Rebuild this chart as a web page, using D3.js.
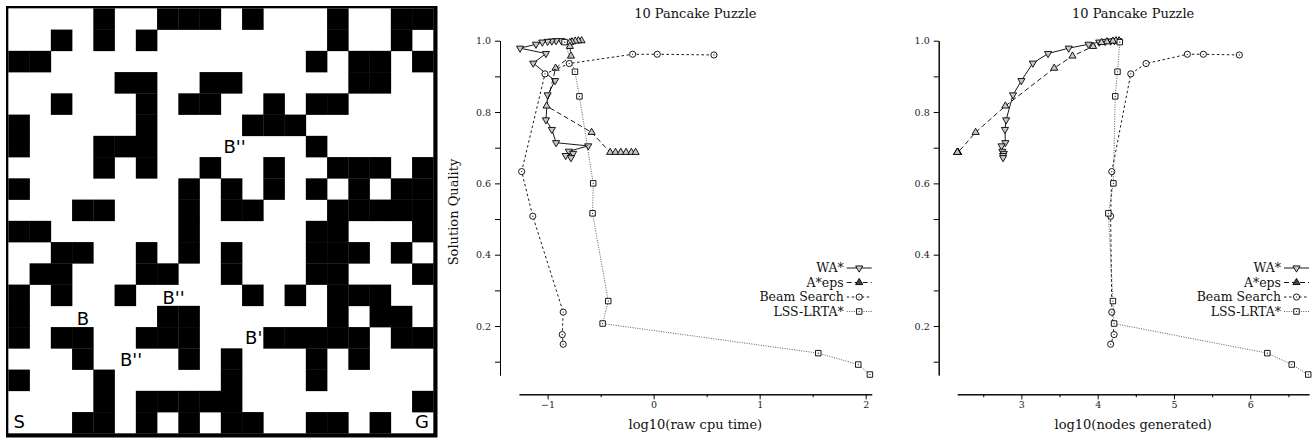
<!DOCTYPE html>
<html>
<head>
<meta charset="utf-8">
<script src="https://cdn.jsdelivr.net/npm/d3@7"></script>
<style>
body { margin: 0; background: #fff; }
.axis text { font-family: "DejaVu Serif", serif; font-size: 9.5px; fill: #222; }
.axis path, .axis line { stroke: #000; }
.title, .axtitle { font-family: "DejaVu Serif", serif; font-size: 13px; fill: #111; }
.legend { font-family: "DejaVu Serif", serif; font-size: 12.5px; fill: #111; }
.maze-label { font-family: "DejaVu Sans", sans-serif; font-size: 18px; fill: #000; }
</style>
</head>
<body>
<svg id="fig" width="1315" height="443"></svg>
<script>
// grid map, '#' = obstacle
var maze = [
    "....#..###.#...#..##",
    "..#.#.#........#..#.",
    "##............#.##.#",
    ".....##..##.....##..",
    "..#...#.##..#.##....",
    "#.....#....###......",
    "#...###.......#.....",
    "....#.#..#..#..###.#",
    "#.......#.#.#.#.#.##",
    "...##...#.##...#####",
    "##......#.....##...#",
    "..##..#.#.#...###.#.",
    ".##...##..#...##...#",
    "#.#..#.....#.#.###..",
    "#......##......#.##.",
    "#.##..###...#####.##",
    "...#....#.#...#.#...",
    "#...#.....#...#.....",
    "....#.#####........#",
    "...##.#.#.##..##.#.."
];
var mazeText = ["S", "G", "B''", "B''", "B", "B'", "B''"];
var mazeCol  = [0.24, 19.14, 10.12, 7.25, 3.22, 11.14, 5.25];
var mazeRow  = [19.76, 19.76, 6.82, 13.91, 14.9, 15.81, 16.83];

// series (log10 values)
var seriesNames = ["WA*", "A*eps", "Beam Search", "LSS-LRTA*"];

var waQuality = [1.0, 1.0, 0.999, 0.998, 0.996, 0.99, 0.979, 0.964, 0.937, 0.888, 0.848, 0.778, 0.751, 0.714, 0.705, 0.69, 0.684, 0.678, 0.672];
var waCpu     = [-0.87, -0.92, -0.96, -1.0, -1.05, -1.11, -1.26, -1.016, -1.136, -0.93, -1.0, -1.016, -0.96, -0.92, -0.617, -0.80, -0.76, -0.83, -0.78];
var waNodes   = [4.27, 4.22, 4.17, 4.10, 4.02, 3.88, 3.62, 3.35, 3.15, 3.00, 2.89, 2.80, 2.785, 2.79, 2.74, 2.75, 2.77, 2.76, 2.76];

var aeQuality = [1.0, 1.0, 0.999, 0.997, 0.995, 0.984, 0.957, 0.923, 0.817, 0.743, 0.687, 0.687, 0.687, 0.687, 0.687, 0.687];
var aeCpu     = [-0.68, -0.71, -0.74, -0.77, -0.79, -0.79, -0.78, -0.925, -1.01, -0.585, -0.41, -0.36, -0.31, -0.26, -0.21, -0.17];
var aeNodes   = [4.28, 4.24, 4.2, 4.12, 4.05, 3.94, 3.67, 3.43, 2.79, 2.40, 2.17, 2.165, 2.165, 2.16, 2.16, 2.16];

var beamQuality = [0.96, 0.962, 0.962, 0.936, 0.907, 0.633, 0.508, 0.239, 0.176, 0.149];
var beamCpu     = [0.569, 0.034, -0.198, -0.796, -1.025, -1.245, -1.14, -0.853, -0.862, -0.853];
var beamNodes   = [5.857, 5.385, 5.176, 4.634, 4.434, 4.185, 4.17, 4.185, 4.215, 4.17];

var lssQuality = [0.996, 0.913, 0.844, 0.60, 0.516, 0.27, 0.207, 0.124, 0.092, 0.064];
var lssCpu     = [-0.84, -0.742, -0.70, -0.57, -0.576, -0.428, -0.481, 1.553, 1.93, 2.04];
var lssNodes   = [4.29, 4.26, 4.23, 4.206, 4.14, 4.20, 4.215, 6.224, 6.544, 6.76];

var yTicks = [0.2, 0.4, 0.6, 0.8, 1.0];
var yMinorTicks = [0.1, 0.3, 0.5, 0.7, 0.9];
var cpuTicks = [-1, 0, 1, 2];
var cpuMinorTicks = [-0.5, 0.5, 1.5];
var nodeTicks = [3, 4, 5, 6];
var nodeMinorTicks = [2.5, 3.5, 4.5, 5.5, 6.5];

var svg = d3.select("#fig");

// ---------- maze ----------
var gx = d3.scaleLinear().domain([0, 20]).range([8.33, 433.33]);
var gy = d3.scaleLinear().domain([0, 20]).range([8.33, 433.33]);

svg.append("rect")
    .attr("x", 6).attr("y", 6)
    .attr("width", 431.5).attr("height", 431.5)
    .attr("fill", "#000");
svg.append("rect")
    .attr("x", gx(0)).attr("y", gy(0))
    .attr("width", gx(20) - gx(0)).attr("height", gy(20) - gy(0))
    .attr("fill", "#fff");

var cells = [];
maze.forEach(function(row, r) {
    row.split("").forEach(function(ch, c) {
        if (ch == "#") cells.push({r: r, c: c});
    });
});
svg.append("g").selectAll("rect")
    .data(cells)
    .enter().append("rect")
    .attr("x", function(d) { return gx(d.c); })
    .attr("y", function(d) { return gy(d.r); })
    .attr("width", gx(1) - gx(0) + 0.3)
    .attr("height", gy(1) - gy(0) + 0.3)
    .attr("fill", "#000");

svg.append("g").selectAll("text")
    .data(mazeText)
    .enter().append("text")
    .attr("class", "maze-label")
    .attr("x", function(d, i) { return gx(mazeCol[i]); })
    .attr("y", function(d, i) { return gy(mazeRow[i]); })
    .text(function(d) { return d; });

// ---------- charts ----------
var tri = d3.symbol().type(d3.symbolTriangle).size(22);
var circ = d3.symbol().type(d3.symbolCircle).size(30);
var sq = d3.symbol().type(d3.symbolSquare).size(30);

var styles = [
    {shape: "down", dash: null, width: 0.9, color: "#000", legendFill: "#ccc"},
    {shape: "up", dash: "5,3", width: 0.9, color: "#000", legendFill: "#444"},
    {shape: "circle", dash: "2.5,2.5", width: 0.9, color: "#000", legendFill: "#fff"},
    {shape: "square", dash: "1,1.4", width: 0.8, color: "#333", legendFill: "#fff"}
];

function addMarker(g, shape, x, y, fill) {
    if (shape == "down" || shape == "up") {
        g.append("path")
            .attr("d", tri())
            .attr("transform", "translate(" + x + "," + y + ")" + (shape == "down" ? " rotate(180)" : ""))
            .attr("fill", fill || "#c8c8c8")
            .attr("stroke", "#000")
            .attr("stroke-width", 0.9);
    } else {
        g.append("path")
            .attr("d", shape == "circle" ? circ() : sq())
            .attr("transform", "translate(" + x + "," + y + ")")
            .attr("fill", "#fff")
            .attr("stroke", "#000")
            .attr("stroke-width", 0.9);
        g.append("circle")
            .attr("cx", x).attr("cy", y).attr("r", 0.6)
            .attr("fill", "#000");
    }
}

function drawChart(opts) {
    var x = d3.scaleLinear().domain(opts.xDomain).range(opts.xRange);
    var y = d3.scaleLinear().domain([0.0627, 1.0]).range([375, 40.7]);
    var g = svg.append("g");

    g.append("g")
        .attr("class", "axis")
        .attr("transform", "translate(" + opts.yAxisX + ",0)")
        .call(d3.axisLeft(y).tickValues(yTicks).tickFormat(d3.format(".1f"))
            .tickSize(5).tickSizeOuter(0).tickPadding(4));
    g.append("g")
        .attr("class", "axis")
        .attr("transform", "translate(" + opts.yAxisX + ",0)")
        .call(d3.axisLeft(y).tickValues(yMinorTicks).tickFormat("")
            .tickSize(5).tickSizeOuter(0));

    g.append("g")
        .attr("class", "axis")
        .attr("transform", "translate(0,394.3)")
        .call(d3.axisBottom(x).tickValues(opts.ticks).tickFormat(d3.format("d"))
            .tickSize(5).tickSizeOuter(0).tickPadding(2));
    g.append("g")
        .attr("class", "axis")
        .attr("transform", "translate(0,394.3)")
        .call(d3.axisBottom(x).tickValues(opts.minor).tickFormat("")
            .tickSize(3).tickSizeOuter(0));

    var cx = (opts.xRange[0] + opts.xRange[1]) / 2;
    g.append("text").attr("class", "title")
        .attr("x", cx).attr("y", 18.3)
        .attr("text-anchor", "middle")
        .text("10 Pancake Puzzle");
    g.append("text").attr("class", "axtitle")
        .attr("x", cx).attr("y", 429)
        .attr("text-anchor", "middle")
        .text(opts.xLabel);
    if (opts.yLabel) {
        g.append("text").attr("class", "axtitle")
            .attr("transform", "translate(458,212) rotate(-90)")
            .attr("text-anchor", "middle")
            .text(opts.yLabel);
    }

    opts.series.forEach(function(s, i) {
        var st = styles[i];
        var pts = s.q.map(function(q, k) { return [x(s.x[k]), y(q)]; });
        g.append("path")
            .attr("d", d3.line()(pts))
            .attr("fill", "none")
            .attr("stroke", st.color)
            .attr("stroke-width", st.width)
            .attr("stroke-dasharray", st.dash);
        pts.forEach(function(p) { addMarker(g, st.shape, p[0], p[1]); });
    });

    // legend
    var end = opts.xRange[1];
    seriesNames.forEach(function(name, i) {
        var st = styles[i];
        var ly = 268 + i * 14.5;
        g.append("text").attr("class", "legend")
            .attr("x", end - 28).attr("y", ly + 4)
            .attr("text-anchor", "end")
            .text(name);
        g.append("line")
            .attr("x1", end - 25).attr("x2", end)
            .attr("y1", ly).attr("y2", ly)
            .attr("stroke", st.color)
            .attr("stroke-width", st.width)
            .attr("stroke-dasharray", st.dash);
        addMarker(g, st.shape, end - 12.5, ly, st.legendFill);
    });
}

drawChart({
    xDomain: [-1.27, 2.057], xRange: [519, 871.7], yAxisX: 500,
    ticks: cpuTicks, minor: cpuMinorTicks,
    xLabel: "log10(raw cpu time)", yLabel: "Solution Quality",
    series: [
        {q: waQuality, x: waCpu},
        {q: aeQuality, x: aeCpu},
        {q: beamQuality, x: beamCpu},
        {q: lssQuality, x: lssCpu}
    ]
});

drawChart({
    xDomain: [2.16, 6.77], xRange: [957.3, 1309], yAxisX: 938.7,
    ticks: nodeTicks, minor: nodeMinorTicks,
    xLabel: "log10(nodes generated)", yLabel: null,
    series: [
        {q: waQuality, x: waNodes},
        {q: aeQuality, x: aeNodes},
        {q: beamQuality, x: beamNodes},
        {q: lssQuality, x: lssNodes}
    ]
});
</script>
</body>
</html>
